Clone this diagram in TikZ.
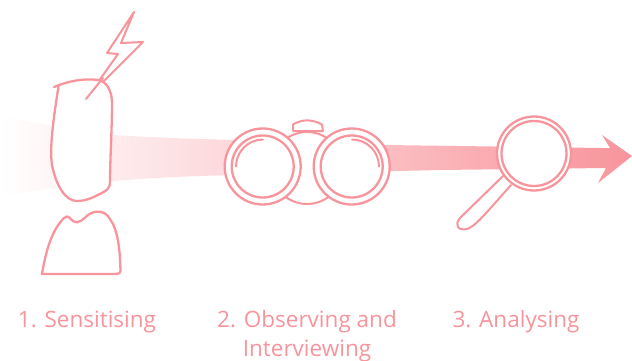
\documentclass[tikz,border=0pt]{standalone}
\usepackage{fontspec}
\setmainfont{Open Sans}
\definecolor{rosy}{HTML}{F8949B}
\tikzset{
 outline/.style={draw=rosy,line width=2.3pt,line join=round,line cap=round},
 thinline/.style={draw=rosy,line width=2pt,line join=round,line cap=round},
 lab/.style={text=rosy,font=\fontsize{22.5}{29}\selectfont},
}
\begin{document}
\begin{tikzpicture}[x=1pt,y=-1pt]
\useasboundingbox (0,0) rectangle (632,361);
% band
\path[left color=white,right color=rosy,shading angle=90,draw=none]
 (0,115) .. controls (45,126) and (90,132) .. (113,135) .. controls (160,138) and (200,139) .. (235,140)
 -- (385,145) -- (602,148) -- (610,148) -- (602,135) -- (632,156) -- (598,183) -- (606,168) -- (440,170) -- (235,175)
 .. controls (190,176) and (150,178) .. (113,181) .. controls (70,186) and (30,190) .. (0,198) -- cycle;
% lightning
\draw[thinline,fill=white] (86,99) -- (118,54) -- (107,53) -- (134,12) -- (121,43) -- (143,42) -- cycle;
% head
\draw[outline,fill=white] (54,87) .. controls (68,81) and (85,78) .. (98,80)
 .. controls (106,81) and (112,90) .. (112,103)
 .. controls (112,130) and (110,160) .. (110,182) .. controls (110,188) and (107,190) .. (102,193)
 .. controls (95,196) and (88,201) .. (77,201) .. controls (65,201) and (56,185) .. (52,165)
 .. controls (49,145) and (55,110) .. (58.5,86);
\draw[thinline] (86,99) -- (103,78);
% body
\draw[outline,fill=white] (42,274) .. controls (46,250) and (52,230) .. (64,218)
 .. controls (68,214) and (70,219) .. (73,221) .. controls (79,225) and (84,218) .. (88,215)
 .. controls (95,210) and (105,210) .. (110,219) .. controls (118,230) and (120,250) .. (120.5,271)
 .. controls (120,274) and (117,274) .. (112,274) -- cycle;
% binoculars
\draw[thinline,fill=white] (293,131) -- (293,124.5) .. controls (302,119) and (312,119) .. (322,124.5) -- (323,131) -- cycle;
\node[circle,minimum size=72pt,inner sep=0pt,thinline,fill=white] (middle) at (307,168) {};
\node[circle,minimum size=76pt,inner sep=0pt,outline,fill=white] (lensL) at (262.7,166.5) {};
\node[circle,minimum size=62pt,inner sep=0pt,outline] (innerL) at (lensL) {};
\node[circle,minimum size=76pt,inner sep=0pt,outline,fill=white] (lensR) at (351.7,166.5) {};
\node[circle,minimum size=62pt,inner sep=0pt,outline] (innerR) at (lensR) {};
\draw[thinline] (263,139.5) arc[start angle=90,end angle=180,radius=27pt];
\draw[thinline] (352,139.5) arc[start angle=90,end angle=0,radius=27pt];
% magnifier
\draw[thinline,fill=white] (503,176) -- (460,218) .. controls (454,225) and (458,231) .. (467,229) .. controls (475,226) and (480,220) .. (511,185);
\node[circle,minimum size=74pt,inner sep=0pt,outline,fill=white] (lensM) at (534,153.5) {};
\node[circle,minimum size=65pt,inner sep=0pt,outline] (innerM) at (lensM) {};
% labels
\node[lab,anchor=center] (l1) at (87,321.5) {1. Sensitising};
\node[lab,anchor=center,align=center] (l2) at (307,336) {2. Observing and\\Interviewing};
\node[lab,anchor=center] (l3) at (516,321.5) {3. Analysing};
\end{tikzpicture}
\end{document}
